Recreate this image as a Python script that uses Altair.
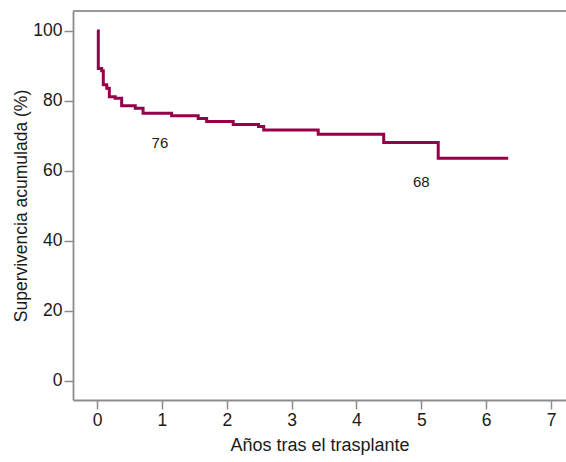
import altair as alt
import pandas as pd

years = [0.0, 0.02, 0.072, 0.097, 0.15, 0.19, 0.28, 0.38, 0.59, 0.71, 1.15, 1.56, 1.69, 2.10, 2.49, 2.57, 3.41, 4.42, 5.26, 6.34]
survival = [100.0, 89.3, 88.6, 84.6, 83.6, 81.2, 80.8, 78.6, 77.9, 76.5, 75.8, 75.0, 74.1, 73.3, 72.7, 71.7, 70.5, 68.1, 63.6, 63.6]

label_text = ["76", "68"]
label_x = [0.97, 5.0]
label_y = [68.0, 56.9]

x_ticks = [0, 1, 2, 3, 4, 5, 6, 7]
y_ticks = [0, 20, 40, 60, 80, 100]

W, H = 493, 389
LINE = "#960048"
AXIS = "#8c8c8c"

curve = pd.DataFrame({"t": years, "s": survival})
labels = pd.DataFrame({"t": label_x, "s": label_y, "txt": label_text})

xs = alt.Scale(domain=[-0.37, 7.23], nice=False, zero=False)
ys = alt.Scale(domain=[-5.43, 105.7], nice=False, zero=False)

line = alt.Chart(curve).mark_line(interpolate="step-after", color=LINE, strokeWidth=3).encode(
    x=alt.X("t:Q", scale=xs, title="Años tras el trasplante",
            axis=alt.Axis(values=x_ticks, grid=False, format="d")),
    y=alt.Y("s:Q", scale=ys, title="Supervivencia acumulada (%)",
            axis=alt.Axis(values=y_ticks, grid=False, format="d")),
)

txt = alt.Chart(labels).mark_text(font="Liberation Sans", fontSize=15, color="#1a1a1a").encode(
    x=alt.X("t:Q", scale=xs), y=alt.Y("s:Q", scale=ys), text="txt:N"
)

top = alt.Chart(pd.DataFrame({"a": [0]})).mark_rule(color="#999999", strokeWidth=2).encode(
    x=alt.value(0), x2=alt.value(W), y=alt.value(0)
)

chart = alt.layer(line, txt, top).properties(
    width=W, height=H,
    autosize=alt.AutoSizeParams(type="none"),
    padding={"left": 73, "top": 11, "right": 0, "bottom": 62},
).configure_view(stroke=None).configure_axis(
    domainColor=AXIS, domainWidth=1.8, tickColor=AXIS, tickWidth=1.5, tickSize=9,
    labelFont="Liberation Sans", labelFontSize=17.5, labelColor="#1a1a1a",
    titleFont="Liberation Sans", titleColor="#1a1a1a", titleFontWeight="normal",
    labelPadding=2,
).configure_axisY(titlePadding=2, titleFontSize=17.5).configure_axisX(titlePadding=8, titleFontSize=18)

chart.save("out.html", embed_options={"renderer": "svg", "actions": False})
